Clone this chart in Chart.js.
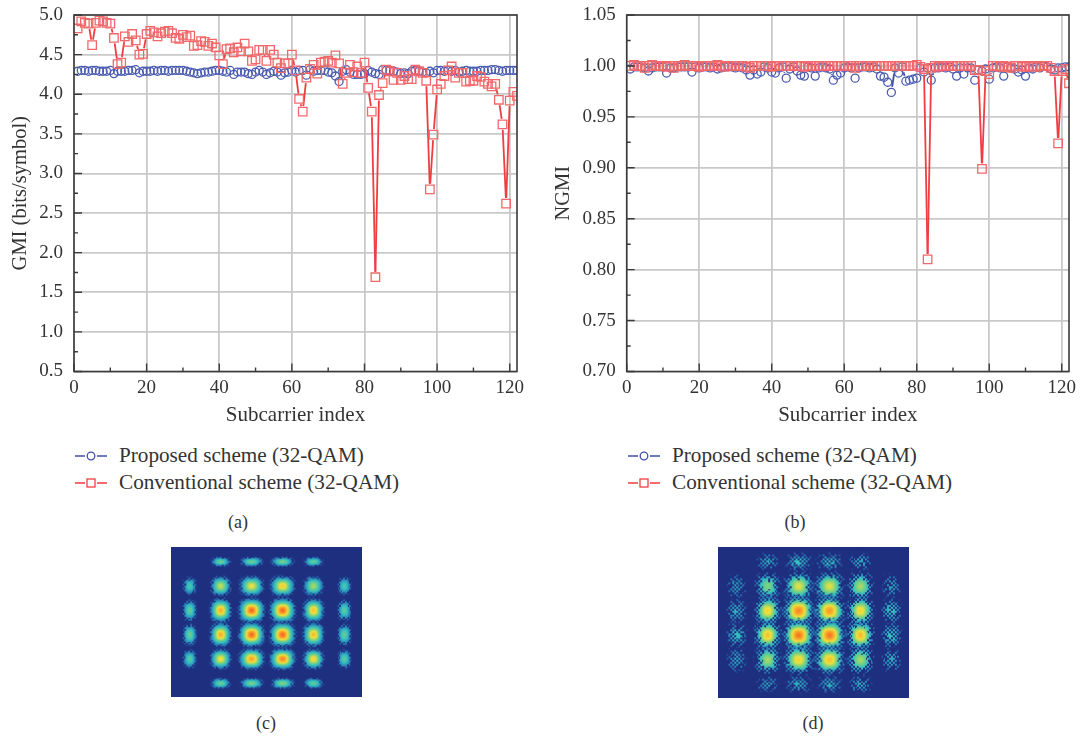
<!DOCTYPE html>
<html lang="en">
<head>
<meta charset="UTF-8">
<title>GMI and NGMI per subcarrier</title>
<script src="https://cdn.jsdelivr.net/npm/chart.js"></script>
<style>
    html, body { margin: 0; padding: 0; background: #fff; }
    body { position: relative; width: 1082px; height: 739px; overflow: hidden; font-family: "Liberation Serif", serif; color: #333; }
    .box { position: absolute; }
    .box canvas { display: block; filter: blur(0.35px); }
    .legend { position: absolute; font-size: 21.2px; line-height: 27px; white-space: nowrap; }
    .legend div { display: flex; align-items: center; height: 27px; }
    .legend svg { width: 34px; height: 14px; margin-right: 11px; }
    .cap { position: absolute; font-size: 18px; transform: translateX(-50%); }
</style>
</head>
<body>
<div class="box" style="left:0;top:0;width:530px;height:430px"><canvas id="gmiChart"></canvas></div>
<div class="box" style="left:540px;top:0;width:542px;height:430px"><canvas id="ngmiChart"></canvas></div>
<div class="box" style="left:171px;top:547px;width:191px;height:150px"><canvas id="constC"></canvas></div>
<div class="box" style="left:718px;top:547px;width:191px;height:151px"><canvas id="constD"></canvas></div>

<div class="legend" style="left:74px;top:442px" id="legendA"></div>
<div class="legend" style="left:627px;top:442px" id="legendB"></div>
<div class="cap" style="left:238px;top:512px">(a)</div>
<div class="cap" style="left:795px;top:512px">(b)</div>
<div class="cap" style="left:266px;top:713px">(c)</div>
<div class="cap" style="left:813px;top:713px">(d)</div>

<script>
const subcarriers = Array.from({ length: 122 }, (_, i) => i + 1);
const seriesNames = ['Proposed scheme (32-QAM)', 'Conventional scheme (32-QAM)'];
const xTicks = [0, 20, 40, 60, 80, 100, 120];
const gmiTicks = [0.5, 1, 1.5, 2, 2.5, 3, 3.5, 4, 4.5, 5];
const ngmiTicks = [0.7, 0.75, 0.8, 0.85, 0.9, 0.95, 1, 1.05];

const proposedGmi = [
    4.29,4.30,4.30,4.29,4.30,4.30,4.29,4.29,4.29,4.30,
    4.26,4.29,4.29,4.29,4.30,4.30,4.31,4.27,4.29,4.29,
    4.29,4.30,4.29,4.30,4.30,4.29,4.30,4.30,4.30,4.30,
    4.29,4.28,4.27,4.26,4.27,4.28,4.28,4.29,4.30,4.30,
    4.29,4.28,4.30,4.25,4.28,4.28,4.28,4.26,4.25,4.28,
    4.30,4.28,4.25,4.27,4.29,4.28,4.24,4.27,4.28,4.30,
    4.28,4.30,4.30,4.24,4.31,4.29,4.30,4.30,4.30,4.28,
    4.27,4.23,4.16,4.29,4.31,4.28,4.25,4.25,4.25,4.26,
    4.30,4.28,4.26,4.25,4.31,4.30,4.30,4.29,4.28,4.26,
    4.27,4.26,4.29,4.30,4.29,4.28,4.27,4.29,4.27,4.30,
    4.30,4.29,4.30,4.29,4.30,4.28,4.29,4.30,4.29,4.29,
    4.29,4.30,4.30,4.30,4.31,4.31,4.30,4.29,4.30,4.30,4.30,4.30
];
const conventionalGmi = [
    4.83,4.92,4.90,4.89,4.62,4.90,4.93,4.92,4.90,4.89,
    4.71,4.38,4.40,4.73,4.66,4.76,4.68,4.50,4.51,4.76,
    4.80,4.78,4.73,4.77,4.79,4.80,4.77,4.71,4.70,4.75,
    4.72,4.74,4.61,4.62,4.67,4.66,4.61,4.64,4.59,4.49,
    4.38,4.57,4.58,4.53,4.59,4.54,4.64,4.54,4.42,4.44,
    4.56,4.56,4.42,4.56,4.50,4.40,4.33,4.39,4.39,4.50,
    4.30,3.94,3.78,4.21,4.32,4.37,4.26,4.40,4.41,4.42,
    4.40,4.49,4.39,4.13,4.27,4.37,4.28,4.35,4.27,4.40,
    4.08,3.78,1.69,3.99,4.14,4.31,4.29,4.18,4.27,4.18,
    4.23,4.19,4.19,4.31,4.29,4.27,4.17,2.80,3.49,4.06,
    4.13,4.23,4.30,4.35,4.21,4.27,4.27,4.16,4.17,4.17,
    4.23,4.22,4.16,4.13,4.10,4.13,3.93,3.62,2.62,3.92,4.03,3.98
];
const proposedNgmi = [
    .997,.999,.999,.999,.998,.995,.998,.999,.999,.999,
    .993,.998,.998,.999,.999,.999,.999,.994,.999,.998,
    .999,.999,.998,.999,.997,.998,.999,1.0,.999,.998,
    .999,.998,.996,.991,.996,.992,.994,.999,.998,.994,
    .993,.998,.999,.988,.997,.999,.995,.991,.990,.999,
    .998,.990,.998,.999,.998,.997,.986,.991,.993,.998,
    .999,.998,.988,.998,.999,.999,.998,.999,.997,.990,
    .989,.984,.974,.998,.993,.999,.985,.986,.987,.988,
    .998,.994,.998,.986,.998,.998,.999,.998,.999,.997,
    .990,.998,.992,.998,.998,.986,.996,.995,.997,.987,
    .998,.999,.998,.990,.999,.998,.997,.994,.996,.990,
    .998,.997,.999,.998,1.0,.999,.997,.996,.998,.998,.999,.999
];
const conventionalNgmi = [
    1.0,1.001,1.0,1.0,.998,1.0,1.001,1.0,1.0,1.0,
    .999,1.0,.998,1.0,1.0,1.001,1.0,1.0,1.0,.999,
    1.0,1.0,1.0,1.0,1.001,1.0,.999,1.0,1.0,1.0,
    1.0,1.0,.999,.998,1.0,1.0,1.0,1.0,1.0,.999,
    1.0,1.0,1.0,1.0,1.0,1.0,1.0,1.0,.999,1.0,
    1.0,1.0,1.0,1.0,1.0,1.0,1.0,1.0,1.0,1.0,
    1.0,1.0,.998,1.0,1.0,1.0,1.0,1.0,1.0,1.0,
    1.0,1.0,1.0,1.0,1.0,1.0,1.0,1.0,1.0,1.001,
    .999,.997,.81,.998,1.0,.999,1.0,1.0,1.0,1.0,
    1.0,1.0,1.0,1.0,1.0,.996,.996,.899,.995,.992,
    1.0,1.0,.999,1.0,.999,.998,1.0,1.0,.999,1.0,
    .999,1.0,.999,1.0,1.0,1.0,.998,.995,.924,.995,.997,.983
];

// constellation: heat of each cluster by row (Q) and column (I), null where no symbol sits
const symbolI = [-5, -3, -1, 1, 3, 5];
const symbolQ = [5, 3, 1, -1, -3, -5];
const heatC = [
    [null,.42,.42,.44,.40,null],
    [.34,.56,.62,.68,.52,.34],
    [.40,.75,.90,.90,.70,.38],
    [.42,.75,.90,.90,.72,.40],
    [.38,.64,.78,.85,.66,.38],
    [null,.42,.44,.46,.40,null]
];
const spreadIC = [.24,.33,.39,.39,.33,.24];
const spreadQC = [.21,.41,.47,.47,.41,.23];
const heatD = [
    [null,.24,.30,.28,.24,null],
    [.22,.46,.60,.60,.52,.22],
    [.26,.66,.85,.80,.66,.30],
    [.30,.70,.88,.88,.72,.30],
    [.24,.52,.66,.70,.52,.24],
    [null,.22,.26,.26,.24,null]
];
const spreadID = [.38,.43,.49,.49,.43,.38];
const spreadQD = [.42,.60,.60,.60,.60,.42];

const blue = '#4a5bb0', blueLine = '#3f4fa8', red = '#f2686a', redLine = '#ef3e42', axisInk = '#3a3a3a';

// Origin style: line stops short of the symbols, so only long jumps show
const gapLines = {
    id: 'gapLines',
    beforeDatasetDraw(chart, args) {
        const meta = args.meta, pts = meta.data, ds = chart.data.datasets[args.index], gap = 5.5;
        const ctx = chart.ctx;
        ctx.save();
        ctx.strokeStyle = ds.gapColor;
        ctx.lineWidth = 1.8;
        for (let i = 0; i + 1 < pts.length; i++) {
            const dx = pts[i + 1].x - pts[i].x, dy = pts[i + 1].y - pts[i].y;
            const d = Math.hypot(dx, dy);
            if (d <= gap * 2) continue;
            ctx.beginPath();
            ctx.moveTo(pts[i].x + dx * gap / d, pts[i].y + dy * gap / d);
            ctx.lineTo(pts[i + 1].x - dx * gap / d, pts[i + 1].y - dy * gap / d);
            ctx.stroke();
        }
        ctx.restore();
    }
};

// inward ticks and dark frame
const frame = {
    id: 'frame',
    afterDatasetsDraw(chart, args, opts) {
        const { ctx, chartArea: a, scales: { x, y } } = chart;
        ctx.save();
        ctx.strokeStyle = axisInk;
        ctx.lineWidth = 1.6;
        ctx.strokeRect(a.left, a.top, a.right - a.left, a.bottom - a.top);
        ctx.lineWidth = 1.4;
        ctx.beginPath();
        xTicks.forEach(v => {
            const px = x.getPixelForValue(v);
            ctx.moveTo(px, a.bottom); ctx.lineTo(px, a.bottom - 8);
            const mid = x.getPixelForValue(v + 10);
            if (mid < a.right) { ctx.moveTo(mid, a.bottom); ctx.lineTo(mid, a.bottom - 4); }
        });
        opts.yTicks.forEach((v, i) => {
            const py = y.getPixelForValue(v);
            ctx.moveTo(a.left, py); ctx.lineTo(a.left + 8, py);
            if (i + 1 < opts.yTicks.length) {
                const mid = y.getPixelForValue((v + opts.yTicks[i + 1]) / 2);
                ctx.moveTo(a.left, mid); ctx.lineTo(a.left + 4, mid);
            }
        });
        ctx.stroke();
        ctx.restore();
    }
};

function makeLineChart(id, proposed, conventional, yTicks, yLabel, digits, leftWidth, rightPad, titleShift) {
    const toPoints = arr => arr.map((v, i) => ({ x: subcarriers[i], y: v }));
    new Chart(document.getElementById(id), {
        type: 'scatter',
        data: {
            datasets: [
                { label: seriesNames[1], data: toPoints(conventional), pointStyle: 'rect', pointRadius: 6,
                  pointBorderColor: red, pointBackgroundColor: 'transparent', pointBorderWidth: 1.3, gapColor: redLine },
                { label: seriesNames[0], data: toPoints(proposed), pointStyle: 'circle', pointRadius: 4,
                  pointBorderColor: blue, pointBackgroundColor: 'transparent', pointBorderWidth: 1.3, gapColor: blueLine }
            ]
        },
        options: {
            responsive: true,
            maintainAspectRatio: false,
            animation: false,
            layout: { autoPadding: false, padding: { top: 15, right: rightPad, left: 0, bottom: 0 } },
            plugins: { legend: { display: false }, tooltip: { enabled: false }, frame: { yTicks } },
            scales: {
                x: {
                    type: 'linear', min: 0, max: 122,
                    afterBuildTicks: s => { s.ticks = xTicks.map(value => ({ value })); },
                    afterFit: s => { s.height = 58.5; s.paddingLeft = 0; s.paddingRight = 0; },
                    grid: { color: '#c9c9c9', lineWidth: 1.8, drawTicks: false },
                    border: { display: false },
                    ticks: { color: '#333', font: { family: 'Liberation Serif', size: 19 }, padding: 5, maxRotation: 0, autoSkip: false },
                    title: { display: true, text: 'Subcarrier index', color: '#333', font: { family: 'Liberation Serif', size: 21 }, padding: { top: 0, bottom: 2 } }
                },
                y: {
                    type: 'linear', min: yTicks[0], max: yTicks[yTicks.length - 1],
                    afterBuildTicks: s => { s.ticks = yTicks.map(value => ({ value })); },
                    afterFit: s => { s.width = leftWidth; s.paddingTop = 0; s.paddingBottom = 0; },
                    grid: { color: '#c9c9c9', lineWidth: 1.8, drawTicks: false },
                    border: { display: false },
                    ticks: { color: '#333', font: { family: 'Liberation Serif', size: 19 }, padding: 11, callback: v => v.toFixed(digits) },
                    title: { display: true, text: yLabel, color: '#333', font: { family: 'Liberation Serif', size: 20.5 }, padding: { top: titleShift, bottom: 0 } }
                }
            }
        },
        plugins: [gapLines, frame]
    });
}

makeLineChart('gmiChart', proposedGmi, conventionalGmi, gmiTicks, 'GMI (bits/symbol)', 1, 74, 13, 8);
makeLineChart('ngmiChart', proposedNgmi, conventionalNgmi, ngmiTicks, 'NGMI', 2, 86.7, 13, 11);

// jet style colours for a density value 0..1
const jetStops = [[0, [30, 60, 140]], [.12, [40, 120, 180]], [.28, [50, 190, 195]], [.45, [120, 210, 130]], [.62, [240, 225, 60]], [.82, [250, 150, 40]], [1, [235, 50, 30]]];
function jet(v) {
    for (let i = 1; i < jetStops.length; i++) {
        if (v <= jetStops[i][0]) {
            const [a, ca] = jetStops[i - 1], [b, cb] = jetStops[i], t = (v - a) / (b - a);
            return ca.map((c, k) => c + (cb[k] - c) * t);
        }
    }
    return jetStops[jetStops.length - 1][1];
}
// fixed threshold table for breaking up the thin edge of a cluster into bins
const speckle = [
    [37, 12, 58, 3, 44, 21, 62, 9],
    [5, 49, 26, 33, 14, 54, 30, 41],
    [60, 18, 42, 7, 51, 1, 38, 23],
    [28, 35, 11, 55, 24, 46, 16, 57],
    [47, 2, 63, 19, 39, 8, 61, 31],
    [15, 53, 29, 43, 4, 34, 22, 50],
    [59, 25, 6, 36, 56, 13, 45, 10],
    [20, 40, 52, 17, 27, 48, 0, 32]
];

// one density blob, sized from its spread on the chart's scales
function blob(heat, sx, sy, fade, shift) {
    const w = Math.ceil(sx * 8), h = Math.ceil(sy * 8);
    const c = document.createElement('canvas');
    c.width = w; c.height = h;
    const g = c.getContext('2d'), img = g.createImageData(w, h);
    for (let py = 0; py < h; py++) {
        for (let px = 0; px < w; px++) {
            const dx = Math.abs(px - w / 2) / sx, dy = Math.abs(py - h / 2) / sy;
            const r2 = Math.pow(Math.pow(dx, 2.6) + Math.pow(dy, 2.6), 2 / 2.6);
            const v = heat * Math.exp(-r2 / 2);
            let alpha = Math.min(1, Math.max(0, (v - 0.03) / 0.05));
            if (v < fade) {
                const cell = speckle[((py >> 1) + shift) & 7][((px >> 1) + shift * 3) & 7] / 64;
                if (v / fade < cell) alpha = 0;
            }
            const col = jet(v), o = (py * w + px) * 4;
            img.data[o] = col[0]; img.data[o + 1] = col[1]; img.data[o + 2] = col[2]; img.data[o + 3] = alpha * 255;
        }
    }
    g.putImageData(img, 0, 0);
    return c;
}

function makeConstellation(id, heat, spreadI, spreadQ, fade) {
    const points = [];
    symbolQ.forEach((q, r) => symbolI.forEach((i, k) => {
        if (heat[r][k] !== null) points.push({ x: i, y: q, heat: heat[r][k], si: spreadI[k], sq: spreadQ[r], shift: r * 3 + k });
    }));
    new Chart(document.getElementById(id), {
        type: 'scatter',
        data: { datasets: [{ data: points, clip: false,
            pointRadius: 10,
            pointStyle: ctx => {
                const { x, y } = ctx.chart.scales, p = ctx.raw;
                if (!p) return 'circle';
                const sx = p.si * Math.abs(x.getPixelForValue(1) - x.getPixelForValue(0));
                const sy = p.sq * Math.abs(y.getPixelForValue(1) - y.getPixelForValue(0));
                if (!isFinite(sx) || !isFinite(sy) || sx <= 0 || sy <= 0) return 'circle';
                return blob(p.heat, sx, sy, fade, p.shift);
            }
        }] },
        options: {
            responsive: true, maintainAspectRatio: false, animation: false,
            layout: { autoPadding: false, padding: 0 },
            plugins: { legend: { display: false }, tooltip: { enabled: false } },
            scales: {
                x: { type: 'linear', min: -6.18, max: 6.17, display: false },
                y: { type: 'linear', min: -6.17, max: 6.17, display: false }
            }
        },
        plugins: [{
            id: 'field',
            beforeDraw(chart) {
                const { ctx, width, height } = chart;
                ctx.save();
                ctx.fillStyle = '#1f2f80';
                ctx.fillRect(0, 0, width, height);
                ctx.restore();
            }
        }]
    });
}

makeConstellation('constC', heatC, spreadIC, spreadQC, 0.2);
makeConstellation('constD', heatD, spreadID, spreadQD, 0.42);

function fillLegend(id) {
    const keys = [
        '<svg viewBox="0 0 34 14"><path d="M1 7H11M23 7H33" stroke="' + blueLine + '" stroke-width="1.3"/><circle cx="17" cy="7" r="3.8" fill="none" stroke="' + blueLine + '" stroke-width="1.3"/></svg>',
        '<svg viewBox="0 0 34 14"><path d="M1 7H11M23 7H33" stroke="' + redLine + '" stroke-width="1.3"/><rect x="13" y="3" width="8" height="8" fill="none" stroke="' + redLine + '" stroke-width="1.3"/></svg>'
    ];
    document.getElementById(id).innerHTML = seriesNames.map((n, i) => '<div>' + keys[i] + '<span>' + n + '</span></div>').join('');
}
fillLegend('legendA');
fillLegend('legendB');
</script>
</body>
</html>
